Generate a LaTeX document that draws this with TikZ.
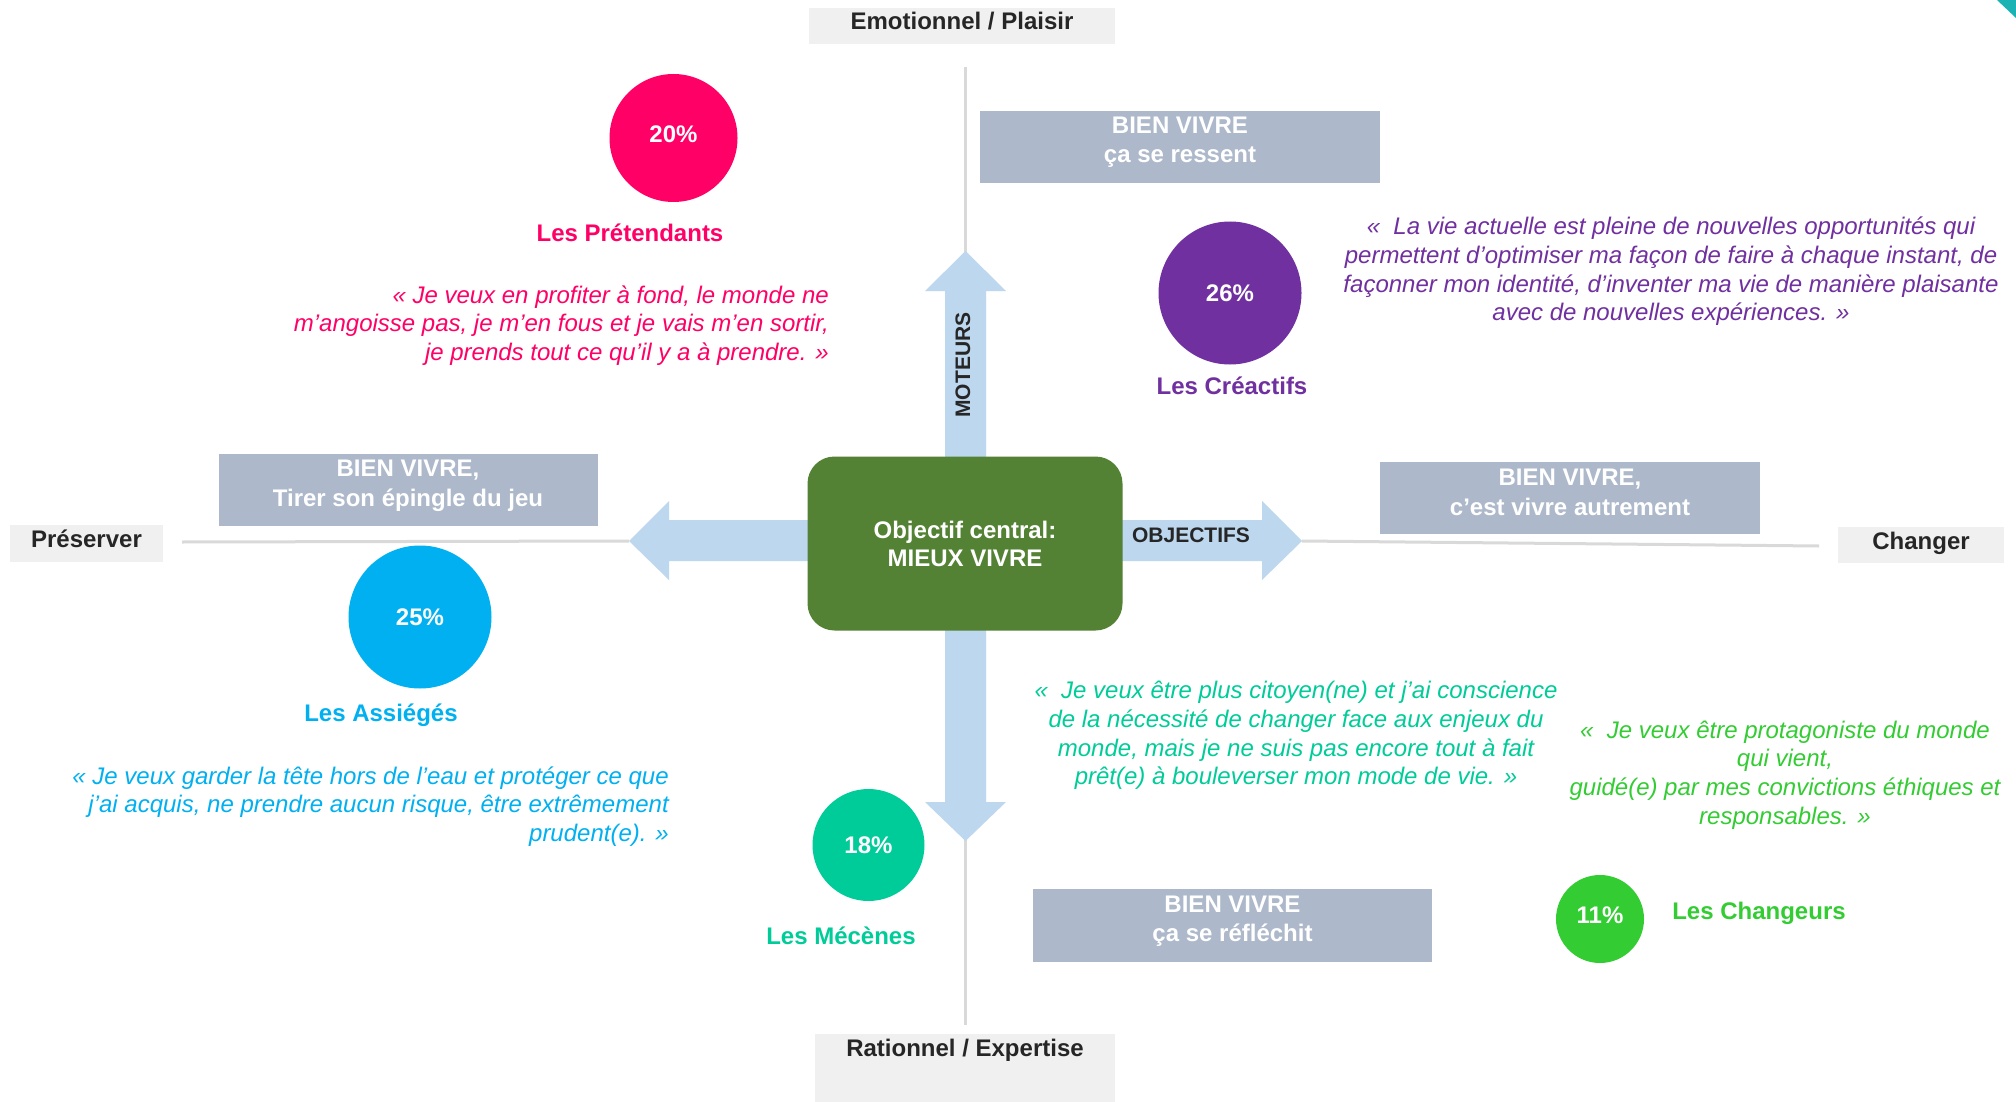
\documentclass[tikz,border=0pt]{standalone}
\usepackage{fontspec}
\setmainfont{Liberation Sans}
\definecolor{cMag}{HTML}{FF0066}
\definecolor{cPur}{HTML}{7030A0}
\definecolor{cCya}{HTML}{00B0F0}
\definecolor{cTea}{HTML}{00CC99}
\definecolor{cGre}{HTML}{33CC33}
\definecolor{boxgray}{HTML}{ADB9CA}
\definecolor{axisbg}{HTML}{F0F0F0}
\definecolor{axistext}{HTML}{262626}
\definecolor{arrowblue}{HTML}{BDD7EE}
\definecolor{centergreen}{HTML}{548235}
\definecolor{axisline}{HTML}{D9D9D9}
\definecolor{cornerteal}{HTML}{1BB3B3}
\begin{document}
\begin{tikzpicture}[x=1pt,y=-1pt,
  axislab/.style={fill=axisbg, text=axistext, font=\bfseries\fontsize{24}{28.7}\selectfont, inner sep=0pt, text height=18pt, text depth=10pt},
  graybox/.style={fill=boxgray, inner sep=0pt},
  boxtxt/.style={text=white, font=\bfseries\fontsize{24}{29.5}\selectfont, align=center, inner sep=0pt},
  pct/.style={circle, inner sep=0pt, text=white, font=\bfseries\fontsize{24}{28}\selectfont},
  grp/.style={font=\bfseries\fontsize{24}{28}\selectfont, inner sep=0pt},
  quote/.style={font=\itshape\fontsize{24}{28.7}\selectfont, inner sep=0pt},
  axline/.style={draw=axisline, line width=3pt},
  blockarrow/.style={fill=arrowblue, draw=none},
  arrlab/.style={text=axistext, font=\bfseries\fontsize{21}{24}\selectfont, inner sep=0pt}
]
\useasboundingbox (0,0) rectangle (2016,1102);
\fill[white] (0,0) rectangle (2016,1102);

% corner decoration
\fill[cornerteal] (1997,0) -- (2016,0) -- (2016,18) -- cycle;

% axis lines
\coordinate (vtop) at (965.5,67);
\coordinate (vbot) at (965.5,1025);
\coordinate (hleft) at (182,542);
\coordinate (hright) at (1819,546);
\coordinate (tipL) at (629,541);
\coordinate (tipR) at (1302,541);
\draw[axline] (vtop) -- (vbot);
\draw[axline] (hleft) -- (tipL);
\draw[axline] (tipR) -- (hright);

% block arrows
\fill[blockarrow] (945,543) -- (945,291) -- (925,291) -- (965.5,251) -- (1006,291) -- (986,291) -- (986,543) -- cycle;
\fill[blockarrow] (945,543) -- (945,802) -- (925,802) -- (965.5,841) -- (1006,802) -- (986,802) -- (986,543) -- cycle;
\fill[blockarrow] (965,520) -- (669,520) -- (669,501) -- (629,541) -- (669,580) -- (669,561) -- (965,561) -- cycle;
\fill[blockarrow] (965,520) -- (1262,520) -- (1262,501) -- (1302,541) -- (1262,580) -- (1262,561) -- (965,561) -- cycle;

% center box
\node[fill=centergreen, rounded corners=27pt, minimum width=315pt, minimum height=174pt, inner sep=0pt,
      text=white, align=center, font=\bfseries\fontsize{24}{28}\selectfont] (ctr) at (965,543.5)
      {Objectif central:\\MIEUX VIVRE};

\node[arrlab, rotate=90] (mot) at (963,365) {MOTEURS};
\node[arrlab] (obj) at (1191,535) {OBJECTIFS};

% axis labels
\node[axislab, minimum width=306pt, minimum height=36pt] (emo) at (962,26) {Emotionnel / Plaisir};
\node[axislab, minimum width=153pt, minimum height=37pt] (pre) at (86.5,543.5) {Préserver};
\node[axislab, minimum width=166pt, minimum height=36pt] (cha) at (1921,545) {Changer};
\node[fill=axisbg, inner sep=0pt, minimum width=300pt, minimum height=68pt] (rat) at (965,1068) {};
\node[axislab, fill=none] (ratT) at (965,1052) {Rationnel / Expertise};

% gray boxes
\node[graybox, minimum width=400pt, minimum height=72pt] (b1) at (1180,147) {};
\node[boxtxt] (b1t) at (1180,142) {BIEN VIVRE\\ça se ressent};
\node[graybox, minimum width=379pt, minimum height=72pt] (b2) at (408,490) {};
\node[boxtxt] (b2t) at (408,486) {BIEN VIVRE,\\Tirer son épingle du jeu};
\node[graybox, minimum width=380pt, minimum height=72pt] (b3) at (1570,497.6) {};
\node[boxtxt] (b3t) at (1570,492.5) {BIEN VIVRE,\\c’est vivre autrement};
\node[graybox, minimum width=399pt, minimum height=73pt] (b4) at (1232.5,925.5) {};
\node[boxtxt] (b4t) at (1232.5,921) {BIEN VIVRE\\ça se réfléchit};

% circles
\node[pct, fill=cMag, minimum size=128pt, text depth=8pt] (c20) at (673.5,138) {20\%};
\node[pct, fill=cPur, minimum size=143pt] (c26) at (1230,293) {26\%};
\node[pct, fill=cCya, minimum size=143pt] (c25) at (420,617) {25\%};
\node[pct, fill=cTea, minimum size=112pt] (c18) at (868.5,845) {18\%};
\node[pct, fill=cGre, minimum size=88pt, text depth=8pt] (c11) at (1600,919) {11\%};

% group labels
\node[grp, text=cMag] (lPre) at (630,233) {Les Prétendants};
\node[grp, text=cPur] (lCre) at (1232,386) {Les Créactifs};
\node[grp, text=cCya] (lAss) at (381,715) {Les Assiégés};
\node[grp, text=cTea] (lMec) at (841,936) {Les Mécènes};
\node[grp, text=cGre] (lCha) at (1759,913) {Les Changeurs};

% quotes
\node[quote, text=cMag, align=right, anchor=east] (qPre) at (829,325.5)
  {« Je veux en profiter à fond, le monde ne\\m’angoisse pas, je m’en fous et je vais m’en sortir,\\je prends tout ce qu’il y a à prendre. »};
\node[quote, text=cPur, align=center] (qCre) at (1671,271.5)
  {«\ \ La vie actuelle est pleine de nouvelles opportunités qui\\permettent d’optimiser ma façon de faire à chaque instant, de\\façonner mon identité, d’inventer ma vie de manière plaisante\\avec de nouvelles expériences. »};
\node[quote, text=cCya, align=right, anchor=east] (qAss) at (669,806.5)
  {« Je veux garder la tête hors de l’eau et protéger ce que\\j’ai acquis, ne prendre aucun risque, être extrêmement\\prudent(e). »};
\node[quote, text=cTea, align=center] (qMec) at (1296,735.5)
  {«\ \ Je veux être plus citoyen(ne) et j’ai conscience\\de la nécessité de changer face aux enjeux du\\monde, mais je ne suis pas encore tout à fait\\prêt(e) à bouleverser mon mode de vie. »};
\node[quote, text=cGre, align=center] (qCha) at (1785,775)
  {«\ \ Je veux être protagoniste du monde\\qui vient,\\guidé(e) par mes convictions éthiques et\\responsables. »};
\end{tikzpicture}
\end{document}
